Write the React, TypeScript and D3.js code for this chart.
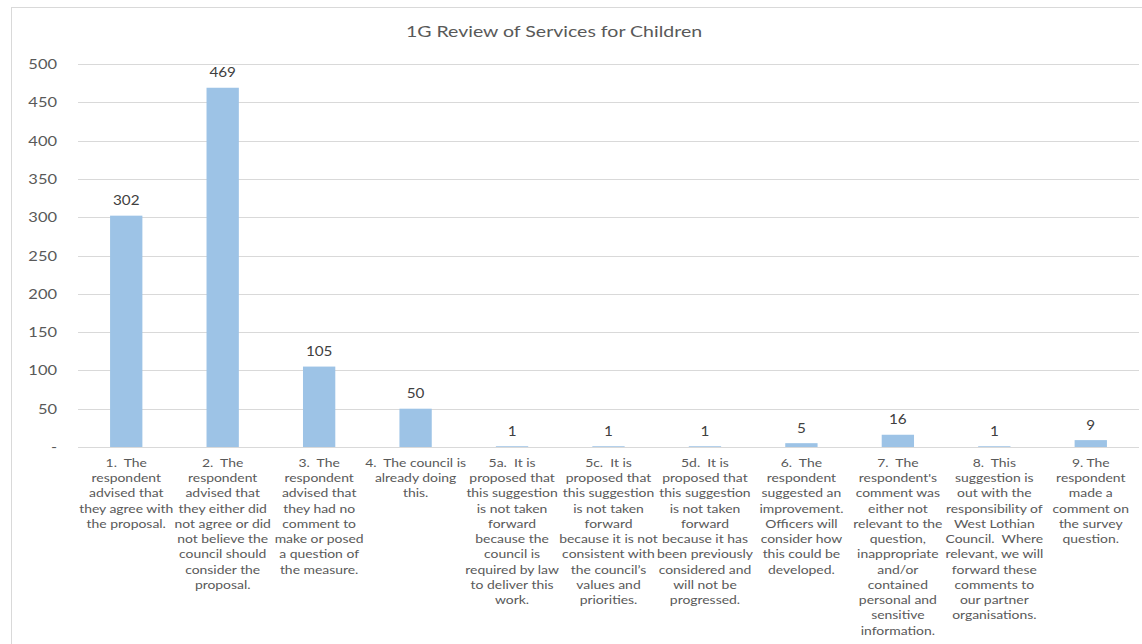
import React from "react";
import * as d3 from "d3";

const title = "1G Review of Services for Children";
const categories: string[][] = [
  ["1.  The", "respondent", "advised that", "they agree with", "the proposal."],
  ["2.  The", "respondent", "advised that", "they either did", "not agree or did", "not believe the", "council should", "consider the", "proposal."],
  ["3.  The", "respondent", "advised that", "they had no", "comment to", "make or posed", "a question of", "the measure."],
  ["4.  The council is", "already doing", "this."],
  ["5a.  It is", "proposed that", "this suggestion", "is not taken", "forward", "because the", "council is", "required by law", "to deliver this", "work."],
  ["5c.  It is", "proposed that", "this suggestion", "is not taken", "forward", "because it is not", "consistent with", "the council\u2019s", "values and", "priorities."],
  ["5d.  It is", "proposed that", "this suggestion", "is not taken", "forward", "because it has", "been previously", "considered and", "will not be", "progressed."],
  ["6.  The", "respondent", "suggested an", "improvement.", "Officers will", "consider how", "this could be", "developed."],
  ["7.  The", "respondent's", "comment was", "either not", "relevant to the", "question,", "inappropriate", "and/or", "contained", "personal and", "sensitive", "information."],
  ["8.  This", "suggestion is", "out with the", "responsibility of", "West Lothian", "Council.  Where", "relevant, we will", "forward these", "comments to", "our partner", "organisations."],
  ["9. The", "respondent", "made a", "comment on", "the survey", "question."],
];
const values: number[] = [302, 469, 105, 50, 1, 1, 1, 5, 16, 1, 9];
const yTicks: number[] = [0, 50, 100, 150, 200, 250, 300, 350, 400, 450, 500];

const W = 1142;
const H = 644;
const left = 78;
const right = 1139;
const top = 64;
const bottom = 447;
const font = "Lato, 'Open Sans', sans-serif";
const textColor = "#595959";

export default function App() {
  const x = d3
    .scaleBand<number>()
    .domain(d3.range(values.length))
    .range([left, right])
    .paddingInner(0.665)
    .paddingOuter(0.3325);
  const y = d3.scaleLinear().domain([0, 500]).range([bottom, top]);

  return (
    <svg
      width={W}
      height={H}
      style={{ position: "absolute", left: 0, top: 0, background: "#fff" }}
    >
      <rect x={11.5} y={7.5} width={W + 20} height={H + 20} fill="#fff" stroke="#d9d9d9" strokeWidth={1} />
      <text
        transform={`translate(554,37) scale(1.22,1)`}
        textAnchor="middle"
        fontFamily={font}
        fontSize={16}
        fill={textColor}
      >
        {title}
      </text>
      {yTicks.map((t) => (
        <g key={t}>
          <line x1={left} x2={right} y1={Math.round(y(t)) + 0.5} y2={Math.round(y(t)) + 0.5} stroke="#d9d9d9" strokeWidth={1} />
          <text
            transform={`translate(57,${y(t) + 5}) scale(1.22,1)`}
            textAnchor="end"
            fontFamily={font}
            fontSize={13.5}
            fill={textColor}
          >
            {t === 0 ? "-" : t}
          </text>
        </g>
      ))}
      {values.map((v, i) => {
        const bx = x(i) as number;
        const bw = x.bandwidth();
        const cx = bx + bw / 2;
        return (
          <g key={i}>
            <rect x={bx} y={y(v)} width={bw} height={y(0) - y(v)} fill="#9dc3e6" />
            <text
              transform={`translate(${cx},${y(v) - 10.5}) scale(1.13,1)`}
              textAnchor="middle"
              fontFamily={font}
              fontSize={13.5}
              fill="#404040"
            >
              {v}
            </text>
            <text
              transform={`translate(${cx},0) scale(1.2,1)`}
              textAnchor="middle"
              fontFamily={font}
              fontSize={11.6}
              fill={textColor}
              style={{ whiteSpace: "pre" }}
            >
              {categories[i].map((line, j) => (
                <tspan key={j} x={0} y={467 + j * 15.25}>
                  {line}
                </tspan>
              ))}
            </text>
          </g>
        );
      })}
      <line x1={left} x2={right} y1={bottom + 0.5} y2={bottom + 0.5} stroke="#d9d9d9" strokeWidth={1} />
    </svg>
  );
}
